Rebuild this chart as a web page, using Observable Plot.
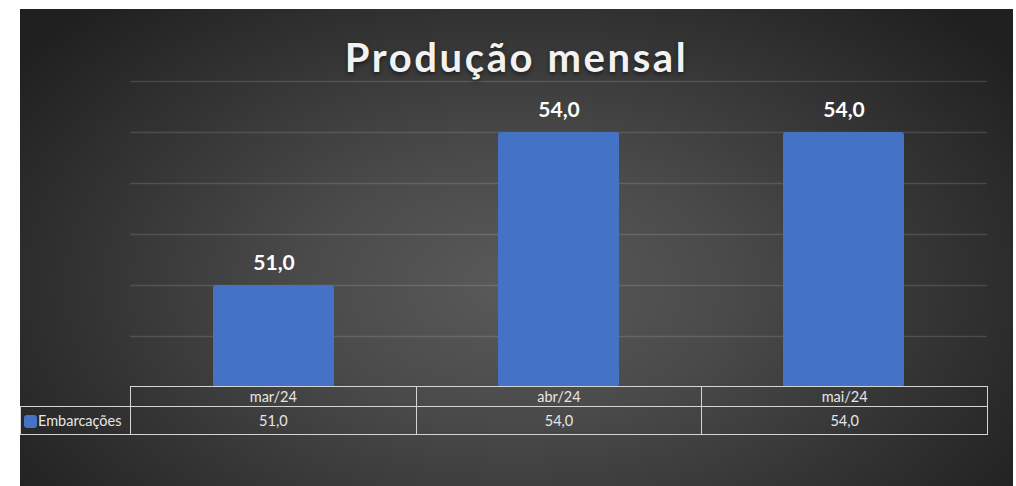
<!DOCTYPE html>
<html>
<head>
<meta charset="utf-8">
<script src="https://cdn.jsdelivr.net/npm/d3@7"></script>
<script src="https://cdn.jsdelivr.net/npm/@observablehq/plot@0.6"></script>
<style>
  html, body { margin: 0; padding: 0; background: #ffffff; width: 1016px; height: 486px; overflow: hidden; }
  #chart {
    position: absolute; left: 20px; top: 9px; width: 993px; height: 477px;
    background: radial-gradient(ellipse 62% 80% at 50% 58%, #5a5a5a 0%, #4a4a4a 35%, #333333 70%, #202020 100%);
    font-family: Lato, "Open Sans", sans-serif;
    overflow: hidden;
  }
  #title {
    position: absolute; left: 0; width: 993px; top: 24px; text-align: center;
    font: bold 40px Lato, sans-serif; letter-spacing: 2.6px; color: #f2f2f2;
    text-shadow: 0 2px 4px rgba(0,0,0,0.55);
  }
  #plot { position: absolute; left: 0; top: 0; }
  #table {
    position: absolute; left: 0; top: 377px; border-collapse: collapse;
    font: 14.5px Lato, sans-serif; color: #e6e6e6; table-layout: fixed;
  }
  #table td { border: 1px solid #d4d4d4; text-align: center; padding: 0; }
  #table tr.head td { height: 19px; line-height: 19px; }
  #table tr.vals td { height: 27px; line-height: 27px; }
  #table td.blank { border: none; }
  #table td.legend { text-align: left; white-space: nowrap; }
  .swatch { display: inline-block; width: 13px; height: 13px; background: #4472c4; border-radius: 3px; vertical-align: -2px; margin-left: 3px; margin-right: 1px; }
</style>
</head>
<body>
<div id="chart">
  <div id="plot"></div>
  <div id="title"></div>
  <table id="table"></table>
</div>
<script>
const title = "Produção mensal";
const seriesName = "Embarcações";
const months = ["mar/24", "abr/24", "mai/24"];
const values = [51.0, 54.0, 54.0];
const yTicks = [50, 51, 52, 53, 54, 55];
const fmt = v => v.toFixed(1).replace(".", ",");

const data = months.map((m, i) => ({month: m, value: values[i]}));

document.getElementById("title").textContent = title;

const plot = Plot.plot({
  width: 993,
  height: 380,
  marginTop: 72,
  marginBottom: 2,
  marginLeft: 110,
  marginRight: 26,
  style: {background: "transparent", fontFamily: "Lato, sans-serif"},
  x: {domain: months, paddingInner: 0.576, paddingOuter: 0.288, axis: null},
  y: {domain: [49, 55], axis: null},
  marks: [
    Plot.gridY(yTicks, {stroke: "#ffffff", strokeOpacity: 0.13, strokeWidth: 1.3}),
    Plot.barY(data, {x: "month", y1: 49, y2: "value", fill: "#4472c4", rx: 3}),
    Plot.text(data, {x: "month", y: "value", text: d => fmt(d.value), dy: -22,
      fill: "#ffffff", fontSize: 21, fontWeight: "bold"})
  ]
});
document.getElementById("plot").append(plot);

// data table below the axis
const colW = (993 - 110 - 26) / months.length;
const table = document.getElementById("table");
const colgroup = document.createElement("colgroup");
const c0 = document.createElement("col"); c0.style.width = "110px"; colgroup.append(c0);
months.forEach(() => { const c = document.createElement("col"); c.style.width = colW + "px"; colgroup.append(c); });
table.append(colgroup);
table.style.width = (110 + colW * months.length) + "px";
const head = document.createElement("tr"); head.className = "head";
const blank = document.createElement("td"); blank.className = "blank"; head.append(blank);
months.forEach(m => { const td = document.createElement("td"); td.textContent = m; head.append(td); });
const vals = document.createElement("tr"); vals.className = "vals";
const leg = document.createElement("td"); leg.className = "legend";
leg.innerHTML = '<span class="swatch"></span>' + seriesName;
vals.append(leg);
values.forEach(v => { const td = document.createElement("td"); td.textContent = fmt(v); vals.append(td); });
table.append(head, vals);
</script>
</body>
</html>
